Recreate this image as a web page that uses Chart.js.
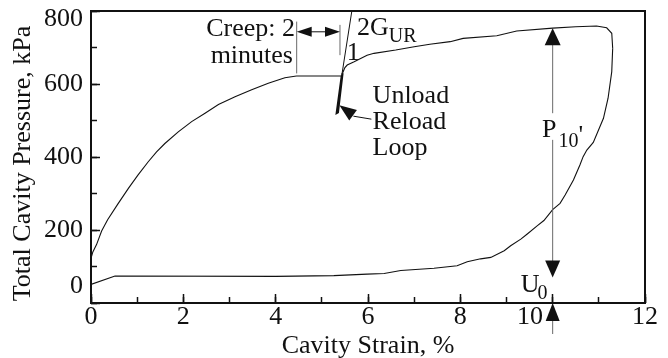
<!DOCTYPE html>
<html>
<head>
<meta charset="utf-8">
<script src="https://cdn.jsdelivr.net/npm/chart.js@4.4.0/dist/chart.umd.min.js"></script>
<style>
  html, body { margin: 0; padding: 0; background: #fff; }
  #wrap { width: 668px; height: 358px; position: relative; }
</style>
</head>
<body>
<div id="wrap"><canvas id="c" width="668" height="358"></canvas></div>
<script>
// ---------------- data ----------------
const loadingStrain   = [0.00, 0.04, 0.12, 0.23, 0.36, 0.58, 0.81, 1.02, 1.24, 1.42, 1.60, 1.89, 2.18, 2.47, 2.76, 3.12, 3.48, 3.84, 4.20, 4.45, 5.43];
const loadingPressure = [122, 140, 160, 197, 228, 271, 314, 351, 387, 414, 437, 469, 497, 520, 544, 565, 584, 602, 617, 622, 622];

const loopStrain   = [5.43, 5.32, 5.35, 5.45];
const loopPressure = [622, 520, 522, 630];

const slopeStrain   = [5.43, 5.65];
const slopePressure = [622, 800];

const reloadStrain   = [5.45, 5.50, 5.55, 5.70, 5.98, 6.13, 6.60, 7.00, 7.34, 7.78, 8.06, 8.79, 9.22, 10.00, 10.50, 10.95, 11.17, 11.28, 11.30];
const reloadPressure = [630, 645, 652, 661, 679, 684, 693, 702, 709, 716, 725, 732, 745, 753, 757, 759, 754, 739, 698];

const unloadStrain   = [11.30, 11.28, 11.20, 11.10, 10.88, 10.74, 10.66, 10.59, 10.45, 10.27, 10.16, 10.00, 9.81, 9.67, 9.45, 9.31, 9.09, 8.95, 8.66, 8.44, 8.15, 7.93, 7.43, 6.71, 6.35, 5.98, 5.26, 4.00, 0.52, 0.00];
const unloadPressure = [698, 634, 561, 506, 440, 419, 401, 378, 337, 296, 273, 256, 226, 212, 189, 175, 157, 143, 125, 121, 113, 102, 95, 89, 81, 79, 75, 73, 74, 51];

const xTickValues = [0, 2, 4, 6, 8, 10, 12];
const xTickLabels = ['0', '2', '4', '6', '8', '10', '12'];
const yTickValues = [0, 200, 400, 600, 800];
const yTickLabels = ['0', '200', '400', '600', '800'];

const xTitle = 'Cavity Strain, %';
const yTitle = 'Total Cavity Pressure, kPa';

// ---------------- styling ----------------
const FONT = '"Liberation Serif", "Times New Roman", serif';
const INK = '#111';
const GREY = '#6a6a6a';

function pts(xs, ys) { return xs.map((x, i) => ({ x: x, y: ys[i] })); }
function lineDs(label, xs, ys, w) {
  return { label: label, data: pts(xs, ys), showLine: true, borderColor: INK, borderWidth: w,
           pointRadius: 0, pointHoverRadius: 0, tension: 0, fill: false, xAxisID: 'x', yAxisID: 'y' };
}

function arrowHead(ctx, tx, ty, ux, uy, len, half) {
  const bx = tx - ux * len, by = ty - uy * len;
  ctx.beginPath();
  ctx.moveTo(tx, ty);
  ctx.lineTo(bx - uy * half, by + ux * half);
  ctx.lineTo(bx + uy * half, by - ux * half);
  ctx.closePath();
  ctx.fill();
}
function seg(ctx, x1, y1, x2, y2) {
  ctx.beginPath(); ctx.moveTo(x1, y1); ctx.lineTo(x2, y2); ctx.stroke();
}

const annotations = {
  id: 'annotations',
  afterDraw(chart) {
    const ctx = chart.ctx, a = chart.chartArea;
    const xs = chart.scales.x, ys = chart.scales.y;
    const X = v => xs.getPixelForValue(v), Y = v => ys.getPixelForValue(v);
    ctx.save();
    // frame
    ctx.strokeStyle = INK; ctx.lineWidth = 2;
    ctx.strokeRect(a.left, a.top, a.right - a.left, a.bottom - a.top);

    const font = s => s + 'px ' + FONT;
    ctx.fillStyle = INK;
    ctx.textBaseline = 'alphabetic';

    // Creep annotation
    ctx.font = font(26);
    ctx.textAlign = 'right';
    ctx.fillText('Creep: 2', X(4.42), Y(731));
    ctx.fillText('minutes', X(4.375), Y(657));
    ctx.strokeStyle = GREY; ctx.lineWidth = 1;
    const cx1 = X(4.455), cx2 = X(5.393), cy = Y(743);
    seg(ctx, cx1, Y(771), cx1, Y(629));
    seg(ctx, cx2, Y(762), cx2, Y(679));
    ctx.strokeStyle = INK;
    seg(ctx, cx1 + 14, cy, cx2 - 14, cy);
    arrowHead(ctx, cx1, cy, -1, 0, 15, 5);
    arrowHead(ctx, cx2, cy, 1, 0, 15, 5);

    // slope label 2G_UR / 1
    ctx.textAlign = 'left';
    ctx.font = font(26);
    const gx = X(5.76), gy = Y(734);
    ctx.fillText('2G', gx, gy);
    const gw = ctx.measureText('2G').width;
    ctx.font = font(20);
    ctx.fillText('UR', gx + gw, gy + 7);
    ctx.font = font(26);
    ctx.fillText('1', X(5.54), Y(666));

    // Unload / Reload / Loop
    const ux = X(6.1);
    ctx.fillText('Unload', ux, Y(548));
    ctx.fillText('Reload', ux, Y(477));
    ctx.fillText('Loop', ux, Y(405));
    const tipX = X(5.38), tipY = Y(542);
    ctx.strokeStyle = INK; ctx.lineWidth = 1;
    seg(ctx, tipX + 14, tipY + 11, tipX + 32, tipY + 14);
    const d = Math.hypot(15, 11);
    arrowHead(ctx, tipX, tipY, -15 / d, -11 / d, 17, 6.5);

    // P10' arrow at 10 %
    const px = X(10);
    ctx.strokeStyle = GREY; ctx.lineWidth = 1;
    seg(ctx, px, Y(753) + 16, px, Y(520));
    seg(ctx, px, Y(447), px, Y(70) - 15);
    ctx.fillStyle = INK;
    arrowHead(ctx, px, Y(753), 0, -1, 17, 8);
    arrowHead(ctx, px, Y(70), 0, 1, 17, 7.5);
    ctx.font = font(26);
    const pX = X(9.77), pY = Y(455);
    ctx.fillText('P', pX, pY);
    const pw = ctx.measureText('P').width;
    ctx.font = font(20);
    ctx.fillText('10', pX + pw + 2, pY + 10);
    const tw = ctx.measureText('10').width;
    ctx.font = font(26);
    ctx.fillText("'", pX + pw + 2 + tw, pY + 6);

    // U0 and arrow below axis
    const uX = X(9.31), uY = Y(30);
    ctx.fillText('U', uX, uY);
    const uw = ctx.measureText('U').width;
    ctx.font = font(20);
    ctx.fillText('0', uX + uw - 2, uY + 7);
    const bt = Y(0);
    ctx.strokeStyle = GREY;
    seg(ctx, px, bt + 16, px, bt + 31);
    arrowHead(ctx, px, bt, 0, -1, 18, 7);
    ctx.restore();
  }
};

const tickFont = { family: FONT, size: 26 };

new Chart(document.getElementById('c'), {
  type: 'scatter',
  data: {
    datasets: [
      lineDs('Loading', loadingStrain, loadingPressure, 1.1),
      lineDs('Unload-reload loop', loopStrain, loopPressure, 2),
      lineDs('2G_UR slope', slopeStrain, slopePressure, 1),
      lineDs('Reloading', reloadStrain, reloadPressure, 1.1),
      lineDs('Unloading', unloadStrain, unloadPressure, 1.1)
    ]
  },
  options: {
    responsive: false,
    animation: false,
    devicePixelRatio: 1,
    layout: { padding: { top: 11, right: 23, left: 0, bottom: 0 } },
    plugins: { legend: { display: false }, tooltip: { enabled: false } },
    events: [],
    scales: {
      x: {
        type: 'linear', position: 'bottom', weight: 1, min: 0, max: 12,
        ticks: {
          stepSize: 2, autoSkip: false, maxRotation: 0, minRotation: 0, padding: 8, color: INK, font: tickFont,
          callback: v => {
            const i = xTickValues.indexOf(v);
            if (i < 0) return '';
            return v === 10 ? xTickLabels[i] + '       ' : xTickLabels[i];
          }
        },
        grid: { drawOnChartArea: false, drawTicks: true, tickLength: -9, tickColor: INK, tickWidth: 1.5 },
        border: { display: false },
        title: { display: true, text: xTitle, color: INK, font: { family: FONT, size: 26, lineHeight: 0.9 }, padding: { top: 0, bottom: 0 } },
        afterFit: s => { s.height = 55; s.paddingLeft = 0; s.paddingRight = 0; }
      },
      x2: {
        type: 'linear', position: 'bottom', weight: 0, min: 0, max: 12,
        ticks: { display: false, stepSize: 1 },
        grid: { drawOnChartArea: false, drawTicks: true, tickLength: -6, tickColor: INK, tickWidth: 1.5 },
        border: { display: false },
        afterFit: s => { s.height = 0; s.paddingLeft = 0; s.paddingRight = 0; }
      },
      y: {
        type: 'linear', position: 'left', weight: 1, min: 0, max: 800,
        ticks: {
          stepSize: 200, autoSkip: false, padding: 17, color: INK,
          font: c => ({ family: FONT, size: 26,
            lineHeight: (c.tick && c.tick.value === 800) ? 0.6 : ((c.tick && c.tick.value === 0) ? 1.3 : 1.2) }),
          callback: v => {
            const i = yTickValues.indexOf(v);
            if (i < 0) return '';
            if (v === 800) return ['', yTickLabels[i]];
            if (v === 0) return [yTickLabels[i], ''];
            return yTickLabels[i];
          }
        },
        grid: { drawOnChartArea: false, drawTicks: true, tickLength: -9, tickColor: INK, tickWidth: 1.5 },
        border: { display: false },
        title: { display: true, text: yTitle + '  ', color: INK, font: { family: FONT, size: 26, lineHeight: 1.2 }, padding: { top: 8, bottom: 0 } },
        afterFit: s => { s.width = 91; s.paddingTop = 0; s.paddingBottom = 0; }
      },
      y2: {
        type: 'linear', position: 'left', weight: 0, min: 0, max: 800,
        ticks: { display: false, stepSize: 100 },
        grid: { drawOnChartArea: false, drawTicks: true, tickLength: -6, tickColor: INK, tickWidth: 1.5 },
        border: { display: false },
        afterFit: s => { s.width = 0; s.paddingTop = 0; s.paddingBottom = 0; }
      }
    }
  },
  plugins: [annotations]
});
</script>
</body>
</html>
